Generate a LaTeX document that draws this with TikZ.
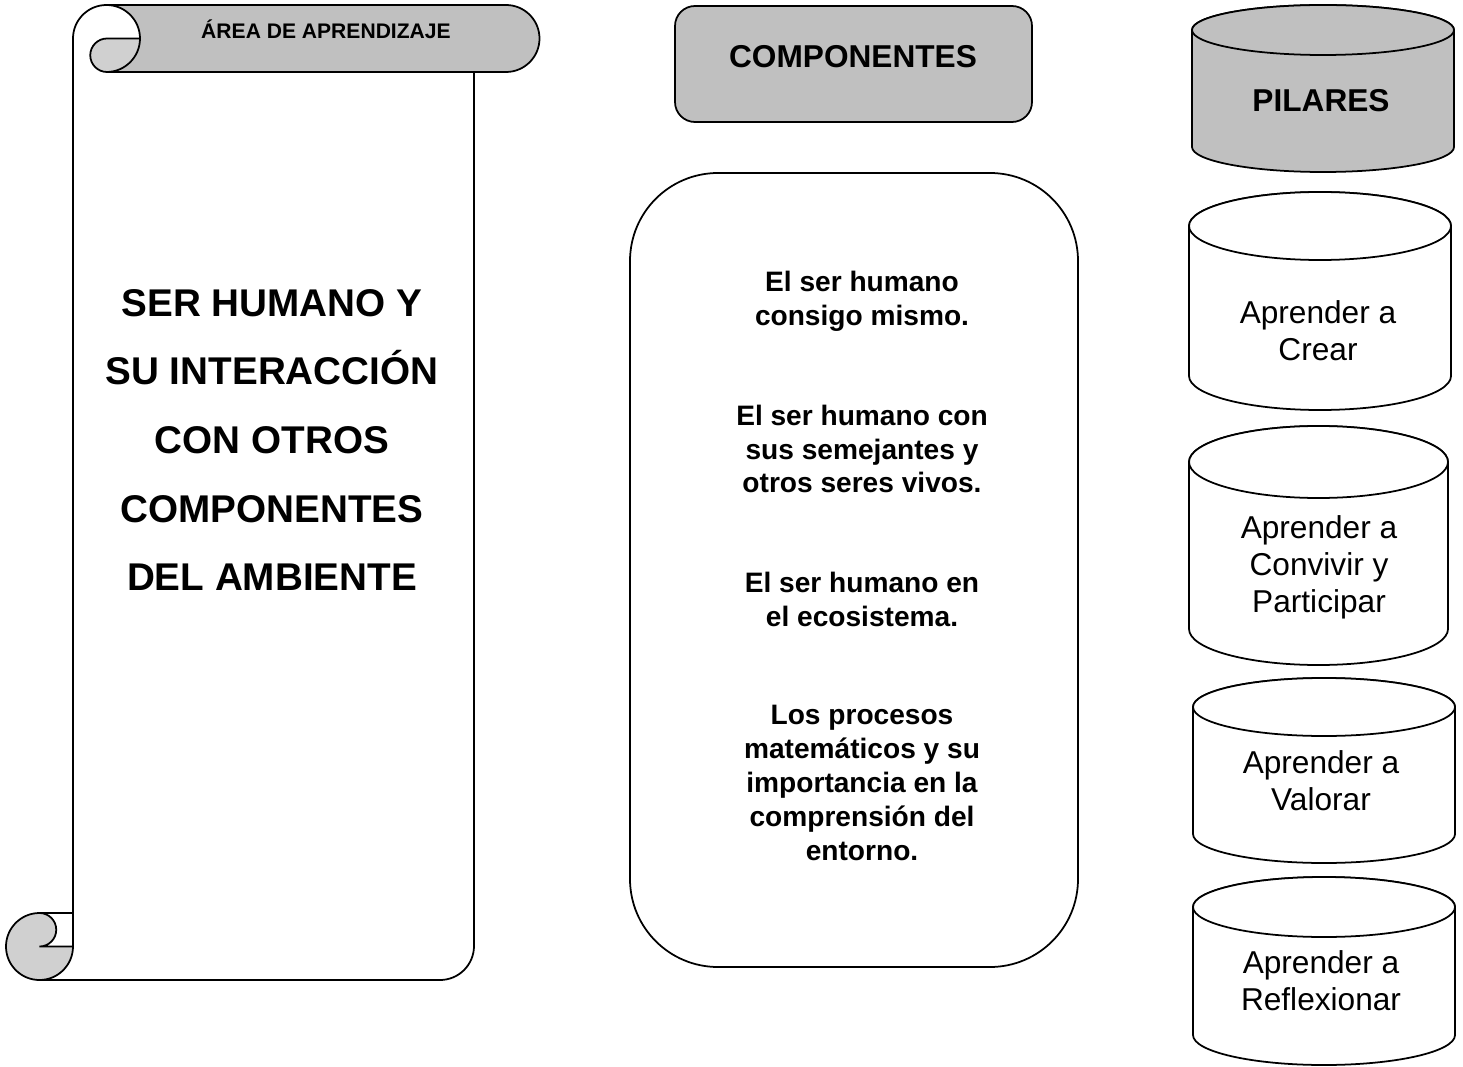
\documentclass[tikz,border=0pt]{standalone}
\usepackage{fontspec}
\setmainfont{Liberation Sans}
\usepackage{tikz}
\usetikzlibrary{calc}
\usetikzlibrary{positioning}
\definecolor{grisoscuro}{RGB}{192,192,192}
\definecolor{grisclaro}{RGB}{208,208,208}
\tikzstyle{borde} = [line width=1pt, draw=black]
\tikzstyle{area} = [font=\bfseries\fontsize{12}{14}\selectfont, anchor=base]
\tikzstyle{encabezado} = [font=\bfseries\fontsize{18}{21}\selectfont, anchor=base]
\tikzstyle{tema} = [font=\bfseries\fontsize{22}{39}\selectfont, align=center]
\tikzstyle{componente} = [font=\bfseries\fontsize{16}{19.3}\selectfont, align=center]
\tikzstyle{pilar} = [font=\fontsize{18}{21}\selectfont, align=center]
\newcommand{\cilindro}[6]{%
  \filldraw[borde, fill=#6] (#1,{#3+#5}) -- (#1,{#4-#5})
    arc[start angle=180, end angle=0, x radius={(#2-#1)/2}, y radius=#5]
    -- (#2,{#3+#5})
    arc[start angle=0, end angle=-180, x radius={(#2-#1)/2}, y radius=#5] -- cycle;
  \filldraw[borde, fill=#6] ({(#1+#2)/2},{#3+#5}) ellipse[x radius={(#2-#1)/2}, y radius=#5];
}

\begin{document}
\begin{tikzpicture}[x=0.02cm, y=-0.02cm]
    \useasboundingbox (0,0) rectangle (1463,1067);

    \fill[grisoscuro] (107,5) -- (506,5) arc[start angle=-90, end angle=90, radius=33.5]
        -- (107,72) arc[start angle=90, end angle=-90, radius=33.5] -- cycle;
    \fill[grisclaro] (140.5,38.5) -- (107,38.5) arc[start angle=-90, end angle=-270, radius=16.75]
        -- (107,72) arc[start angle=90, end angle=0, radius=33.5] -- cycle;
    \draw[borde] (73,946.5) -- (73,38.5) arc[start angle=180, end angle=450, radius=33.5];
    \draw[borde] (140.5,38.5) -- (107,38.5) arc[start angle=-90, end angle=-270, radius=16.75] -- (506,72);
    \draw[borde] (107,5) -- (506,5) arc[start angle=-90, end angle=90, radius=33.5];
    \draw[borde] (474,72) -- (474,946) arc[start angle=0, end angle=90, radius=34] -- (39.5,980);
    \filldraw[borde, fill=grisclaro] (39.5,913) arc[start angle=-90, end angle=90, radius=16.75]
        -- (73,946.5) arc[start angle=0, end angle=270, radius=33.5] -- (73,913);

    \node[area] (area) at (326,38.5) {ÁREA DE APRENDIZAJE};
    \node[tema] (tema) at (272,440) {SER HUMANO Y\\SU INTERACCIÓN\\CON OTROS\\COMPONENTES\\DEL AMBIENTE};

    \draw[borde, fill=grisoscuro, rounded corners=0.4cm] (675,6) rectangle (1032,122);
    \node[encabezado] (componentes) at (853,68) {COMPONENTES};
    \draw[borde, rounded corners=1.76cm] (630,173) rectangle (1078,967);
    \node[componente] (comp1) at (862,301) {El ser humano\\consigo mismo.};
    \node[componente] (comp2) at (862,449) {El ser humano con\\sus semejantes y\\otros seres vivos.};
    \node[componente] (comp3) at (862,599) {El ser humano en\\el ecosistema.};
    \node[componente] (comp4) at (862,783) {Los procesos\\matemáticos y su\\importancia en la\\comprensión del\\entorno.};

    \cilindro{1192}{1454}{5}{172}{25}{grisoscuro}
    \node[encabezado] (pilares) at (1321,112) {PILARES};
    \cilindro{1189}{1451}{192}{410}{34}{white}
    \node[pilar] (crear) at (1318,331) {Aprender a\\Crear};
    \cilindro{1189}{1448}{426}{665}{36}{white}
    \node[pilar] (convivir) at (1319,567) {Aprender a\\Convivir y\\Participar};
    \cilindro{1193}{1455}{678}{863}{29}{white}
    \node[pilar] (valorar) at (1321,781) {Aprender a\\Valorar};
    \cilindro{1193}{1455}{877}{1065}{30}{white}
    \node[pilar] (reflexionar) at (1321,981) {Aprender a\\Reflexionar};
\end{tikzpicture}
\end{document}
